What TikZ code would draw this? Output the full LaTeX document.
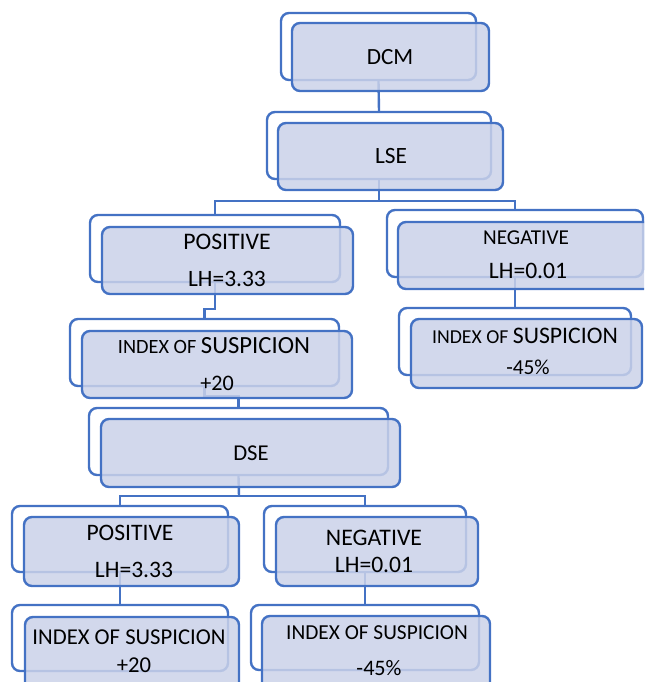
\documentclass[tikz,border=0pt]{standalone}
\usepackage{fontspec}
\setmainfont{Carlito}
\usetikzlibrary{fit}
\definecolor{bord}{HTML}{4472C4}
\definecolor{ffill}{HTML}{CBD2E9}
\tikzset{
  backbox/.style={draw=bord, line width=1.8pt, rounded corners=6pt, fill=white, inner sep=0pt},
  frontbox/.style={draw=bord, line width=1.8pt, rounded corners=6pt, fill=ffill, fill opacity=0.85, inner sep=0pt},
  conn/.style={draw=bord, line width=1.8pt},
  txt/.style={inner sep=0pt, anchor=base, text=black},
}
\newcommand{\fs}[1]{\fontsize{#1}{#1}\selectfont}
\begin{document}
\begin{tikzpicture}[x=0.75pt,y=-0.75pt]
\useasboundingbox (0,0) rectangle (644,682);
\clip (0,0) rectangle (644,682);
% back boxes
\node[backbox, fit={(281,13)(476,80)}] (dcmB) {};
\node[backbox, fit={(267,112)(491,179)}] (lseB) {};
\node[backbox, fit={(90,215)(340,282)}] (posB) {};
\node[backbox, fit={(387,210)(643,277)}] (negB) {};
\node[backbox, fit={(70,319)(339,386)}] (idxB) {};
\node[backbox, fit={(399,308)(631,375)}] (nidxB) {};
\node[backbox, fit={(89,408)(388,475)}] (dseB) {};
\node[backbox, fit={(12,506)(228,572)}] (posbB) {};
\node[backbox, fit={(264,506)(466,572)}] (negbB) {};
\node[backbox, fit={(12,605)(228,671)}] (idxbB) {};
\node[backbox, fit={(251,605)(479,670)}] (nidxbB) {};
% junctions
\coordinate (j1) at (379,201);
\coordinate (j2) at (210,309);
\coordinate (j3) at (220,396);
\coordinate (j4) at (239,496);
% connectors
\draw[conn] (dcmB.south) -- (lseB.north);
\draw[conn] (lseB.south) -- (j1);
\draw[conn] (posB.north) |- (j1) -| (negB.north);
\draw[conn] (posB.south) |- (j2) -| (idxB.north);
\draw[conn] (negB.south) -- (nidxB.north);
\draw[conn] (idxB.south) |- (j3) -| (dseB.north);
\draw[conn] (dseB.south) -- (j4);
\draw[conn] (posbB.north) |- (j4) -| (negbB.north);
\draw[conn] (posbB.south) -- (idxbB.north);
\draw[conn] (negbB.south) -- (nidxbB.north);
% front boxes
\node[frontbox, fit={(292,23)(489,91)}] (dcmF) {};
\node[frontbox, fit={(278,123)(503,190)}] (lseF) {};
\node[frontbox, fit={(102,227)(353,294)}] (posF) {};
\node[frontbox, fit={(398,222)(656,289)}] (negF) {};
\node[frontbox, fit={(411,319)(642,388)}] (nidxF) {};
\node[frontbox, fit={(82,331)(352,398)}] (idxF) {};
\node[frontbox, fit={(101,419)(400,487)}] (dseF) {};
\node[frontbox, fit={(24,517)(239,586)}] (posbF) {};
\node[frontbox, fit={(276,517)(478,586)}] (negbF) {};
\node[frontbox, fit={(25,617)(239,692)}] (idxbF) {};
\node[frontbox, fit={(262,616)(490,692)}] (nidxbF) {};
% texts
\node[txt, font=\fs{17.4}] (dcmT) at (390,64) {DCM};
\node[txt, font=\fs{17.5}] (lseT) at (391,163) {LSE};
\node[txt, font=\fs{17.8}] (posT1) at (227,249) {POSITIVE};
\node[txt, font=\fs{17.6}] (posT2) at (227,286) {LH=3.33};
\node[txt, font=\fs{15.9}] (negT1) at (526,244) {NEGATIVE};
\node[txt, font=\fs{17.7}] (negT2) at (528,278) {LH=0.01};
\node[txt] (idxT1) at (214,353) {\fs{15.2}INDEX OF \fs{18.5}SUSPICION};
\node[txt, font=\fs{16.6}] (idxT2) at (217,390) {+20};
\node[txt] (nidxT1) at (525,343) {\fs{14.8}INDEX OF \fs{17.8}SUSPICION};
\node[txt, font=\fs{16}] (nidxT2) at (528,374) {-45\%};
\node[txt, font=\fs{17}] (dseT) at (251,460) {DSE};
\node[txt, font=\fs{17.7}] (posbT1) at (130,540) {POSITIVE};
\node[txt, font=\fs{17.7}] (posbT2) at (134,577) {LH=3.33};
\node[txt, font=\fs{17.8}] (negbT1) at (374,545) {NEGATIVE};
\node[txt, font=\fs{17.7}] (negbT2) at (374,572) {LH=0.01};
\node[txt, font=\fs{17}] (idxbT1) at (129,644) {INDEX OF SUSPICION};
\node[txt, font=\fs{17}] (idxbT2) at (134,672) {+20};
\node[txt, font=\fs{16}] (nidxbT1) at (377,639) {INDEX OF SUSPICION};
\node[txt, font=\fs{16.6}] (nidxbT2) at (379,675) {-45\%};
\end{tikzpicture}
\end{document}
